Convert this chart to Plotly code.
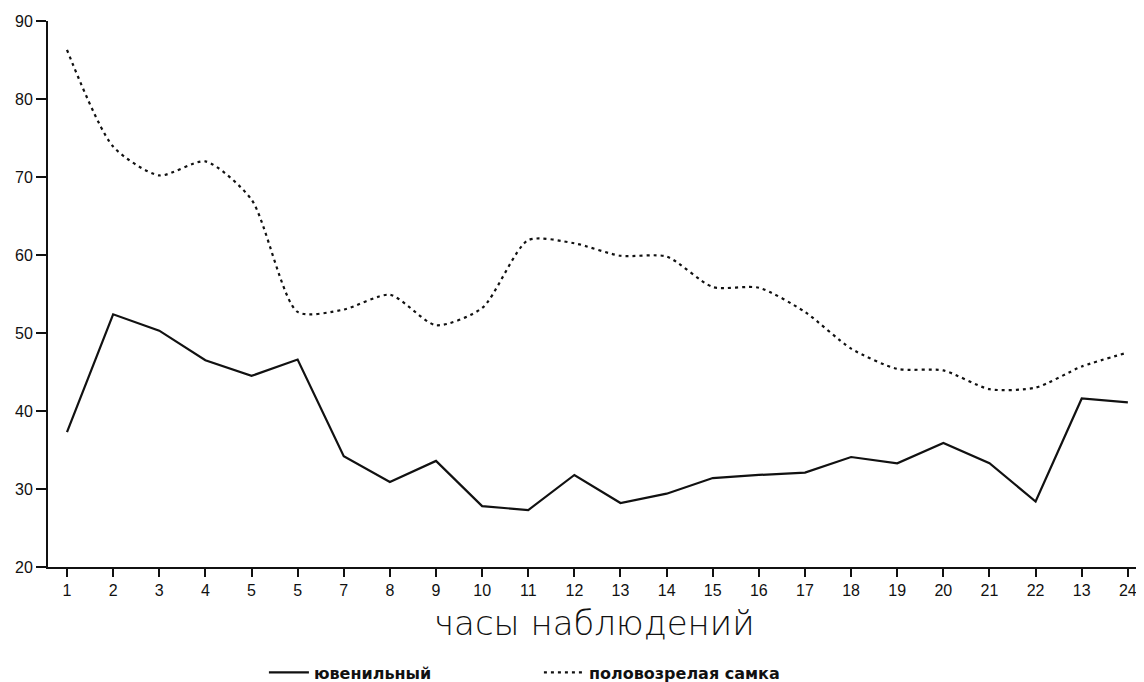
import plotly.graph_objects as go

hours = list(range(1, 25))
tick_labels = ["1", "2", "3", "4", "5", "5", "7", "8", "9", "10", "11", "12",
               "13", "14", "15", "16", "17", "18", "19", "20", "21", "22", "13", "24"]
juvenile = [37.3, 52.4, 50.3, 46.5, 44.5, 46.6, 34.2, 30.9, 33.6, 27.8, 27.3, 31.8,
            28.2, 29.4, 31.4, 31.8, 32.1, 34.1, 33.3, 35.9, 33.3, 28.4, 41.6, 41.1]
female = [86.3, 73.9, 70.2, 72.0, 67.1, 52.7, 53.0, 54.9, 51.0, 53.2, 61.9, 61.5,
          59.9, 59.8, 55.9, 55.8, 52.7, 48.0, 45.4, 45.2, 42.8, 43.0, 45.7, 47.5]
y_ticks = [20, 30, 40, 50, 60, 70, 80, 90]

fig = go.Figure()
fig.add_trace(go.Scatter(
    x=hours, y=juvenile, mode="lines", name="ювенильный",
    line=dict(color="#111111", width=2.2)))
fig.add_trace(go.Scatter(
    x=hours, y=female, mode="lines", name="половозрелая самка",
    line=dict(color="#111111", width=2.2, dash="3px,4px", shape="spline", smoothing=0.7)))

# page body has an 8px default margin, so the figure is sized to fit the window
fig.update_layout(
    width=1136, height=674,
    margin=dict(l=40, r=0, t=13, b=115),
    paper_bgcolor="white", plot_bgcolor="white",
    font=dict(family="Liberation Sans, Arial", color="#111111", size=16),
    showlegend=True,
    legend=dict(orientation="h", x=0.197, xanchor="left", xref="paper",
                y=0.014, yanchor="middle", yref="container",
                font=dict(family="DejaVu Sans", size=16, weight="bold"),
                entrywidth=220, itemwidth=40, bgcolor="rgba(0,0,0,0)"),
    xaxis=dict(range=[0.588, 24.35], tickmode="array", tickvals=hours, ticktext=tick_labels,
               automargin=False,
               showgrid=False, zeroline=False, showline=True, linecolor="#111111", linewidth=2,
               ticks="outside", ticklen=8, tickwidth=2, tickcolor="#111111",
               tickfont=dict(size=16)),
    yaxis=dict(range=[20, 90], tickmode="array", tickvals=y_ticks, automargin=False,
               showgrid=False, zeroline=False, showline=True, linecolor="#111111", linewidth=2,
               ticks="outside", ticklen=10, tickwidth=2, tickcolor="#111111",
               tickfont=dict(size=16)),
    annotations=[dict(text="часы наблюдений", xref="paper", yref="paper",
                      x=(594 - 48) / 1096, y=(567 - 623) / 546, xanchor="center", yanchor="middle",
                      showarrow=False,
                      font=dict(family="DejaVu Sans", size=34, weight=200, color="#111111"))],
)

fig.write_html("out.html")
